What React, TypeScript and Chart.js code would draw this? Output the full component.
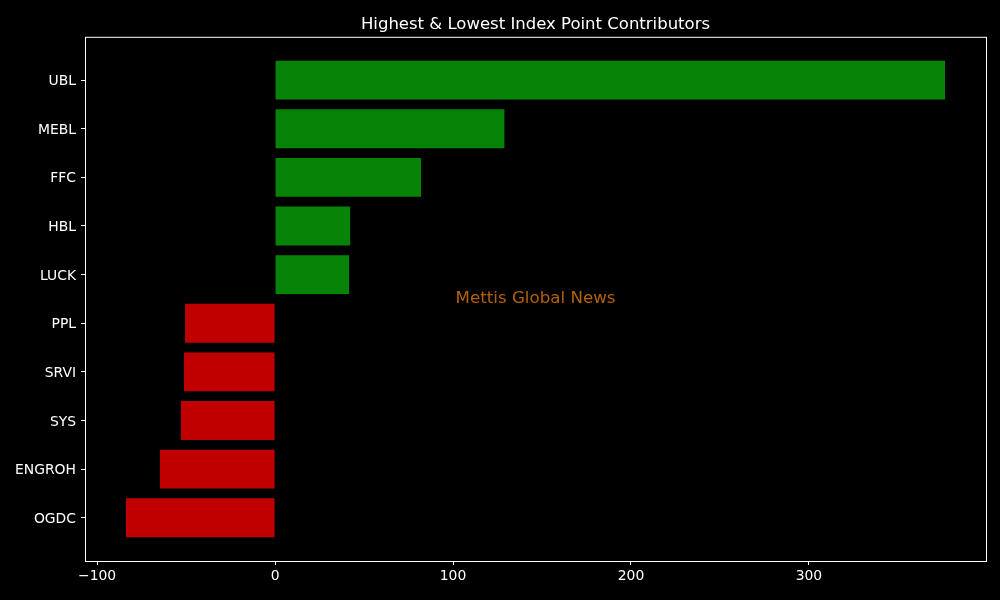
import { useEffect, useRef } from "react";
import Chart from "chart.js/auto";

const categories = ["UBL", "MEBL", "FFC", "HBL", "LUCK", "PPL", "SRVI", "SYS", "ENGROH", "OGDC"];
const points = [376.5, 128.9, 82.0, 42.2, 41.6, -50.6, -51.2, -52.9, -64.7, -83.8];
const xTicks = [-100, 0, 100, 200, 300];

const GREEN = "#078407";
const RED = "#c00000";

// matplotlib-like full frame + watermark in the middle of the axes
const framePlugin = {
  id: "frame",
  afterDraw(chart: Chart) {
    const { ctx, chartArea: a } = chart;
    ctx.save();
    ctx.strokeStyle = "#ffffff";
    ctx.lineWidth = 1;
    ctx.strokeRect(a.left + 0.5, a.top + 0.5, a.right - a.left, a.bottom - a.top);
    ctx.fillStyle = "rgba(255,140,0,0.7)";
    ctx.font = "16.7px 'DejaVu Sans'";
    ctx.textAlign = "center";
    ctx.textBaseline = "middle";
    ctx.fillText("Mettis Global News", (a.left + a.right) / 2, (a.top + a.bottom) / 2);
    ctx.restore();
  },
};

export default function App() {
  const ref = useRef<HTMLCanvasElement | null>(null);

  useEffect(() => {
    if (!ref.current) return;
    Chart.defaults.font.family = "'DejaVu Sans'";
    Chart.defaults.color = "#ffffff";

    const lo = Math.min(0, ...points);
    const hi = Math.max(0, ...points);
    const xPad = (hi - lo) * 0.05;
    const yLo = -0.4;
    const yHi = categories.length - 1 + 0.4;
    const yPad = (yHi - yLo) * 0.05;

    const chart = new Chart(ref.current, {
      type: "bar",
      data: {
        datasets: [
          {
            data: points.map((v, i) => ({ x: v, y: i })),
            backgroundColor: points.map((v) => (v >= 0 ? GREEN : RED)),
            borderWidth: 0,
            barPercentage: 0.8,
            categoryPercentage: 1,
          },
        ],
      },
      options: {
        indexAxis: "y",
        animation: false,
        responsive: true,
        maintainAspectRatio: false,
        layout: { padding: { left: 0, right: 14, top: 0, bottom: 0 } },
        plugins: {
          legend: { display: false },
          tooltip: { enabled: false },
          title: {
            display: true,
            text: "Highest & Lowest Index Point Contributors",
            color: "#ffffff",
            fullSize: false,
            font: { size: 16.5, weight: "normal" },
            padding: { top: 15, bottom: 2 },
          },
        },
        scales: {
          x: {
            type: "linear",
            min: lo - xPad,
            max: hi + xPad,
            border: { display: false },
            grid: { drawOnChartArea: false, color: "#ffffff", tickLength: 4 },
            afterBuildTicks: (s: any) => {
              s.ticks = xTicks.map((v) => ({ value: v }));
            },
            afterFit: (s: any) => {
              s.height = 39;
            },
            ticks: {
              color: "#ffffff",
              font: { size: 13.9 },
              padding: 3,
              maxRotation: 0,
              callback: (v: any) => String(v).replace("-", "\u2212"),
            },
          },
          y: {
            type: "linear",
            reverse: true,
            offset: false,
            min: yLo - yPad,
            max: yHi + yPad,
            border: { display: false },
            grid: { drawOnChartArea: false, offset: false, color: "#ffffff", tickLength: 4 },
            afterBuildTicks: (s: any) => {
              s.ticks = categories.map((_, i) => ({ value: i }));
            },
            afterFit: (s: any) => {
              s.width = 85;
            },
            ticks: {
              color: "#ffffff",
              font: { size: 13.9 },
              padding: 5,
              labelOffset: 1.5,
              callback: (v: any) => categories[v] ?? "",
            },
          },
        },
      },
      plugins: [framePlugin],
    });

    return () => chart.destroy();
  }, []);

  return (
    <div style={{ position: "absolute", left: 0, top: 0, width: 1000, height: 600, background: "#000000" }}>
      <canvas ref={ref} aria-label="Highest and lowest index point contributors" />
    </div>
  );
}
